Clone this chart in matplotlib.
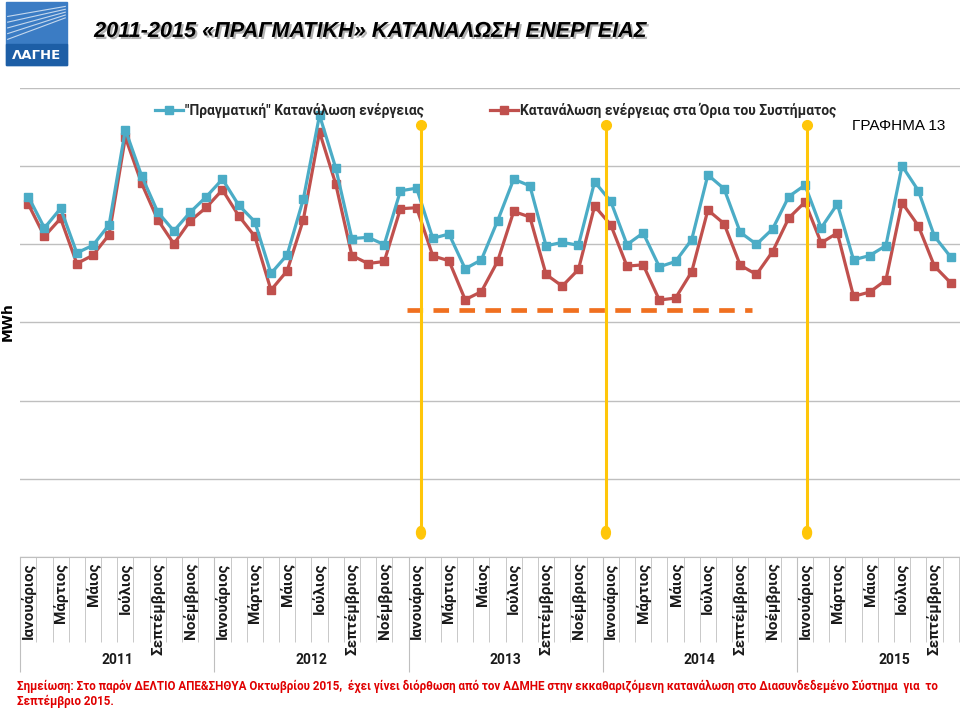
import matplotlib
matplotlib.use("Agg")
import matplotlib.pyplot as plt
import matplotlib.patheffects as pe
from matplotlib.patches import Rectangle, Ellipse

# monthly energy (million MWh), Jan 2011 - Oct 2015
real_cons = [4.611, 4.209, 4.459, 3.890, 3.987, 4.251, 5.465, 4.879, 4.413, 4.171, 4.408, 4.608,
             4.833, 4.502, 4.289, 3.627, 3.865, 4.578, 5.652, 4.977, 4.073, 4.089, 3.996, 4.684,
             4.718, 4.076, 4.132, 3.687, 3.801, 4.298, 4.833, 4.748, 3.980, 4.025, 3.987, 4.799,
             4.548, 3.996, 4.145, 3.712, 3.780, 4.060, 4.888, 4.710, 4.153, 4.000, 4.196, 4.611,
             4.757, 4.209, 4.515, 3.801, 3.856, 3.983, 5.003, 4.688, 4.102, 3.839]
system_cons = [4.515, 4.102, 4.331, 3.754, 3.860, 4.124, 5.368, 4.782, 4.315, 4.005, 4.298, 4.471,
               4.697, 4.366, 4.102, 3.414, 3.661, 4.315, 5.436, 4.773, 3.856, 3.754, 3.780, 4.455,
               4.468, 3.852, 3.789, 3.292, 3.394, 3.780, 4.420, 4.349, 3.614, 3.465, 3.678, 4.489,
               4.247, 3.720, 3.738, 3.287, 3.312, 3.648, 4.438, 4.264, 3.732, 3.614, 3.907, 4.336,
               4.540, 4.018, 4.145, 3.334, 3.389, 3.541, 4.531, 4.238, 3.720, 3.508]
real_cons = [v * 1e6 for v in real_cons]
system_cons = [v * 1e6 for v in system_cons]

months = ["Ιανουάριος", "", "Μάρτιος", "", "Μάιος", "", "Ιούλιος", "", "Σεπτέμβριος", "", "Νοέμβριος", ""]
years = ["2011", "2012", "2013", "2014", "2015"]
n_cat = 12 * len(years)

fig = plt.figure(figsize=(9.6, 7.15), dpi=100)
ax = fig.add_axes([0.021, 0.221, 0.979, 0.656])

x = list(range(len(real_cons)))
ax.plot(x, real_cons, color="#4bacc6", lw=2.3, marker="s", ms=5.5, zorder=4,
        label='"Πραγματική" Κατανάλωση ενέργειας')
ax.plot(x, system_cons, color="#c0504d", lw=2.3, marker="s", ms=5.5, zorder=3,
        label="Κατανάλωση ενέργειας στα Όρια του Συστήματος")

# category boundaries: months short, years long
ax.set_xticks([12 * i - 0.5 for i in range(len(years) + 1)])
ax.set_xticks([i - 0.5 for i in range(n_cat + 1)], minor=True)
ax.tick_params(axis="x", which="major", length=83, color="#bfbfbf", labelbottom=False)
ax.tick_params(axis="x", which="minor", length=61, color="#bfbfbf")

ax.set_yticks([i * 1e6 for i in range(7)])
ax.set_xlim(-0.5, 57.58)
ax.set_ylim(0, 6e6)
ax.yaxis.grid(True, color="#bfbfbf", lw=1)
ax.set_axisbelow(True)
ax.tick_params(axis="y", length=0, labelleft=False)
for s in ["top", "right", "left"]:
    ax.spines[s].set_visible(False)
ax.spines["bottom"].set_color("#bfbfbf")

tr = ax.get_xaxis_transform()
for i in range(58):
    lab = months[i % 12]
    if lab:
        ax.text(i, -0.012, lab, rotation=90, ha="center", va="top", transform=tr,
                fontsize=11, fontweight="bold", family="Roboto", color="#1a1a1a", clip_on=False)
for k, yr in enumerate(years):
    ax.text(12 * k + 5.5, -0.22, yr, ha="center", va="center", transform=tr,
            fontsize=10, fontweight="bold", family="Roboto", color="#1a1a1a", clip_on=False)

# annotation lines
gold = "#ffc609"
for xv in [24.27, 35.7, 48.13]:
    ax.plot([xv, xv], [0.31e6, 5.52e6], color=gold, lw=2.2, zorder=5, solid_capstyle="butt")
    ax.plot(xv, 5.52e6, "o", color=gold, ms=7, zorder=5)
    ax.add_patch(Ellipse((xv, 0.31e6), 0.55, 0.16e6, color=gold, zorder=5))
ax.plot([23.4, 44.73], [3.16e6, 3.16e6], color="#f07020", lw=3.4, dashes=(3.3, 2.2),
        dash_capstyle="butt", zorder=2)

ax.legend(loc="upper center", bbox_to_anchor=(0.506, 0.995), ncol=2, frameon=False,
          handlelength=2.0, handletextpad=0.15, columnspacing=4.8,
          prop={"family": "Roboto", "size": 10, "weight": "bold"}, labelcolor="#262626")

fig.text(0.888, 0.824, "ΓΡΑΦΗΜΑ 13", fontsize=11, family="Liberation Sans", ha="left", va="center")
fig.text(0.008, 0.55, "MWh", rotation=90, fontsize=10, fontweight="bold", ha="center", va="center")

# header
fig.text(0.098, 0.956, "2011-2015 «ΠΡΑΓΜΑΤΙΚΗ» ΚΑΤΑΝΑΛΩΣΗ ΕΝΕΡΓΕΙΑΣ", fontsize=15.6,
         family="Liberation Sans", fontweight="bold", style="italic", ha="left", va="center",
         path_effects=[pe.SimplePatchShadow(offset=(1.5, -1.5), shadow_rgbFace="#808080", alpha=0.6),
                       pe.Normal()])
fig.patches.append(Rectangle((0.006, 0.909), 0.064, 0.088, transform=fig.transFigure,
                             color="#3b7cc4", zorder=0))
for k in range(5):
    fig.lines.append(plt.Line2D([0.008, 0.068], [0.945 + 0.008 * k, 0.975 + 0.004 * k],
                                transform=fig.transFigure, color="white", lw=0.8, alpha=0.7))
fig.patches.append(Rectangle((0.006, 0.909), 0.064, 0.03, transform=fig.transFigure,
                             color="#1d5ea6", zorder=0))
fig.text(0.038, 0.922, "ΛΑΓΗΕ", color="white", fontsize=9.5, fontweight="bold", ha="center", va="center")

fig.text(0.018, 0.030, "Σημείωση: Στο παρόν ΔΕΛΤΙΟ ΑΠΕ&ΣΗΘΥΑ Οκτωβρίου 2015,  έχει γίνει διόρθωση από τον ΑΔΜΗΕ "
         "στην εκκαθαριζόμενη κατανάλωση στο Διασυνδεδεμένο Σύστημα  για  το\nΣεπτέμβριο 2015.",
         color="#e00000", fontsize=8.4, fontweight="bold", family="Roboto", ha="left", va="center",
         linespacing=1.2)

fig.savefig("out.png", dpi=100)
